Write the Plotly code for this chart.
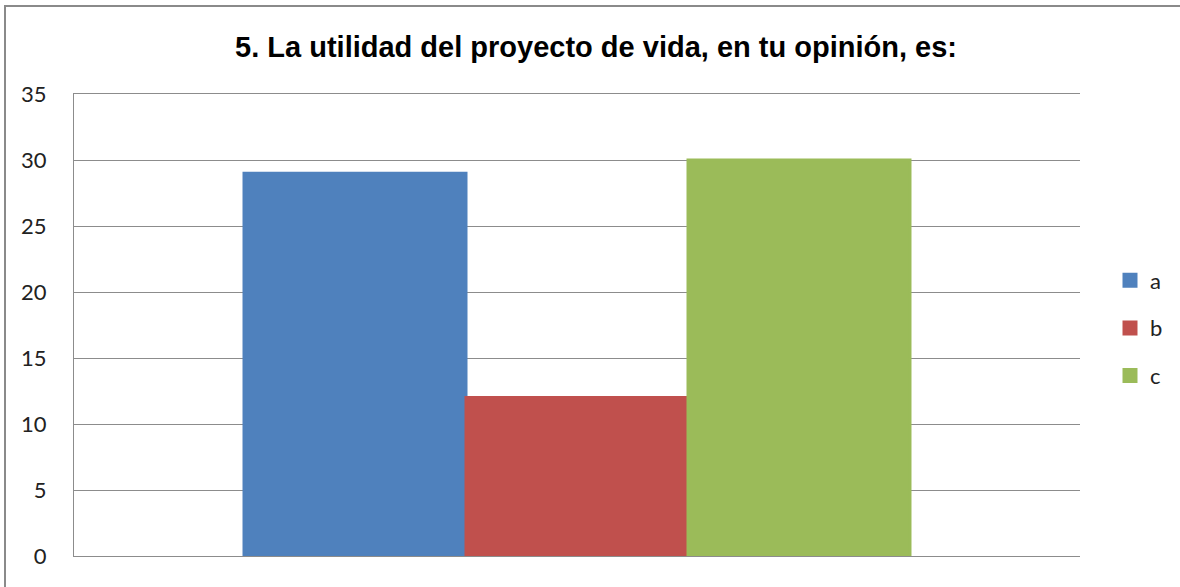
import plotly.graph_objects as go

categories = [""]
series_names = ["a", "b", "c"]
series_values = [[29], [12], [30]]
colors = ["#4F81BD", "#C0504D", "#9BBB59"]
y_ticks = [0, 5, 10, 15, 20, 25, 30, 35]

W, H = 1180, 587
L, R, T, B = 74, 100, 94, 31
pw, ph = W - L - R, H - T - B

fig = go.Figure()
for i, (name, vals, col) in enumerate(zip(series_names, series_values, colors)):
    fig.add_trace(go.Bar(
        x=categories, y=vals, name=name, legendgroup=name,
        marker=dict(color=col, line=dict(width=3, color=col)),
    ))

def px_x(p):
    return (p - L) / pw

def px_y(p):
    return (H - B - p) / ph

# chart frame border
fig.add_shape(type="rect", xref="paper", yref="paper",
              x0=px_x(5), x1=px_x(1200), y0=px_y(600), y1=px_y(6),
              line=dict(color="#8a8a8a", width=2), fillcolor="rgba(0,0,0,0)")

fig.update_layout(
    width=W, height=H,
    margin=dict(l=L, r=R, t=T, b=B, autoexpand=False),
    paper_bgcolor="white", plot_bgcolor="white",
    barmode="group", bargap=0.338, bargroupgap=0,
    title=dict(text="<b>5. La utilidad del proyecto de vida, en tu opinión, es:</b>",
               x=(596) / W, xanchor="center", y=1 - 47 / H, yanchor="middle",
               font=dict(family="Liberation Sans, Arial", size=29, color="black")),
    font=dict(family="Lato, Liberation Sans", size=22, color="black"),
    showlegend=True,
    legend=dict(x=px_x(1110), xanchor="left", y=px_y(328), yanchor="middle",
                traceorder="grouped", tracegroupgap=16,
                font=dict(family="Lato, Liberation Sans", size=22, color="#222"),
                itemwidth=30, bgcolor="rgba(0,0,0,0)"),
    xaxis=dict(range=[-0.5, 0.5], showticklabels=False, ticks="",
               showline=True, mirror=True, linecolor="#8c8c8c", linewidth=1,
               showgrid=False, zeroline=False),
    yaxis=dict(range=[0, 35], tickvals=y_ticks, ticktext=[str(v) for v in y_ticks],
               showgrid=True, gridcolor="#8c8c8c", gridwidth=1,
               showline=True, linecolor="#8c8c8c", linewidth=1,
               zeroline=True, zerolinecolor="#8c8c8c", zerolinewidth=1,
               ticks="", ticklabelstandoff=22,
               tickfont=dict(family="Lato, Liberation Sans", size=22, color="#222")),
)

fig.write_html("out.html", config={"displayModeBar": False},
               post_script="document.body.style.margin='0';document.body.style.overflow='hidden';")
